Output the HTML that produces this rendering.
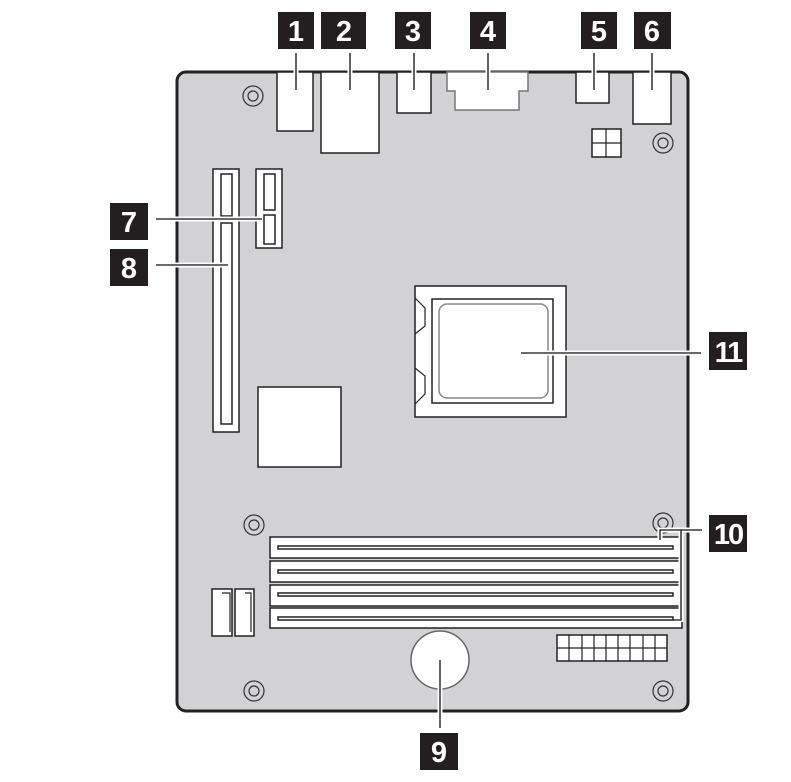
<!DOCTYPE html>
<html><head><style>html,body{margin:0;padding:0;background:#fff;width:791px;height:782px;overflow:hidden}</style></head><body>
<svg width="791" height="782" viewBox="0 0 791 782" xmlns="http://www.w3.org/2000/svg" font-family="Liberation Sans, sans-serif">
<rect x="177" y="72" width="511" height="639" rx="9" fill="#d2d2d4" stroke="#222" stroke-width="3"/>
<g fill="#fff" stroke="#222" stroke-width="1.5">
<rect x="277" y="72" width="36" height="59"/>
<rect x="321" y="72" width="58" height="81"/>
<rect x="397" y="72" width="34" height="41"/>
<path d="M447 72 H528 V91 H519 V110 H455 V91 H447 Z" stroke="#777"/>
<rect x="576" y="72" width="33" height="31"/>
<rect x="633" y="72" width="38" height="52"/>
<rect x="592" y="129" width="29" height="28"/>
<rect x="213" y="169" width="26" height="263"/>
<rect x="221" y="174" width="11" height="42"/>
<rect x="221" y="223" width="11" height="201"/>
<rect x="256" y="169" width="26" height="79"/>
<rect x="264" y="174" width="11" height="36"/>
<rect x="264" y="215" width="11" height="29"/>
<rect x="258" y="387" width="83" height="80"/>
<rect x="415" y="286" width="151" height="131"/>
<rect x="432" y="299" width="121" height="104"/>
<rect x="439" y="304" width="109" height="94" rx="8" stroke="#888"/>
<rect x="270" y="537" width="412" height="21"/>
<rect x="270" y="561" width="412" height="21"/>
<rect x="270" y="585" width="412" height="21"/>
<rect x="270" y="608" width="412" height="20"/>
<rect x="278" y="546" width="395" height="3"/>
<rect x="278" y="570" width="395" height="3"/>
<rect x="278" y="593" width="395" height="3"/>
<rect x="278" y="617" width="395" height="3"/>
<rect x="212" y="589" width="20" height="47"/>
<rect x="235" y="589" width="19" height="47"/>
<rect x="557" y="635" width="110" height="26"/>
<circle cx="440" cy="660" r="29" stroke="#666"/>
</g>
<g stroke="#222" stroke-width="1.2" fill="none">
<path d="M606 129V157M592 143H621"/>
<path d="M415 298 L425 308 V326 L415 334 M415 368 L425 376 V394 L415 404"/>
<path d="M222 593H230V632M245 593H251V632"/>
<path d="M569 635V661M582 635V661M594 635V661M606 635V661M618 635V661M630 635V661M643 635V661M655 635V661M557 648H667"/>
</g>
<g fill="none" stroke="#333" stroke-width="1.2">
<circle cx="253" cy="96" r="10"/><circle cx="253" cy="96" r="5"/>
<circle cx="663" cy="143" r="10"/><circle cx="663" cy="143" r="5"/>
<circle cx="254" cy="525" r="10"/><circle cx="254" cy="525" r="5"/>
<circle cx="663" cy="523" r="10"/><circle cx="663" cy="523" r="5"/>
<circle cx="254" cy="691" r="10"/><circle cx="254" cy="691" r="5"/>
<circle cx="663" cy="691" r="10"/><circle cx="663" cy="691" r="5"/>
</g>
<g stroke="#fff" stroke-width="5" fill="none">
<path d="M296 53V90M350 53V90M414 53V90M488 53V90M594 53V90M652 53V90"/>
<path d="M156 219H262M156 265H228M521 353H701M702 530H660V540M681 530V622M440 660V728"/>
</g>
<g stroke="#111" stroke-width="1.3" fill="none">
<path d="M296 53V90M350 53V90M414 53V90M488 53V90M594 53V90M652 53V90"/>
<path d="M156 219H262M156 265H228M521 353H701M702 530H660V540M681 530V620H673M440 660V728"/>
</g>
<g fill="#231f20">
<rect x="278" y="12" width="36" height="37"/><rect x="321" y="12" width="45" height="37"/>
<rect x="395" y="12" width="36" height="37"/><rect x="470" y="12" width="36" height="37"/>
<rect x="581" y="12" width="36" height="37"/><rect x="634" y="12" width="37" height="37"/>
<rect x="110" y="203" width="38" height="37"/><rect x="110" y="249" width="38" height="37"/>
<rect x="709" y="332" width="38" height="38"/><rect x="709" y="515" width="38" height="37"/>
<rect x="420" y="733" width="38" height="37"/>
</g>
<g fill="#fff" font-weight="bold" font-size="29" text-anchor="middle">
<text x="296" y="41">1</text><text x="344" y="41">2</text><text x="413" y="41">3</text>
<text x="488" y="41">4</text><text x="599" y="41">5</text><text x="652" y="41">6</text>
<text x="129" y="232">7</text><text x="129" y="278">8</text>
<text x="728" y="362" letter-spacing="-2">11</text><text x="728" y="544" letter-spacing="-2">10</text>
<text x="439" y="762">9</text>
</g>
</svg>
</body></html>
